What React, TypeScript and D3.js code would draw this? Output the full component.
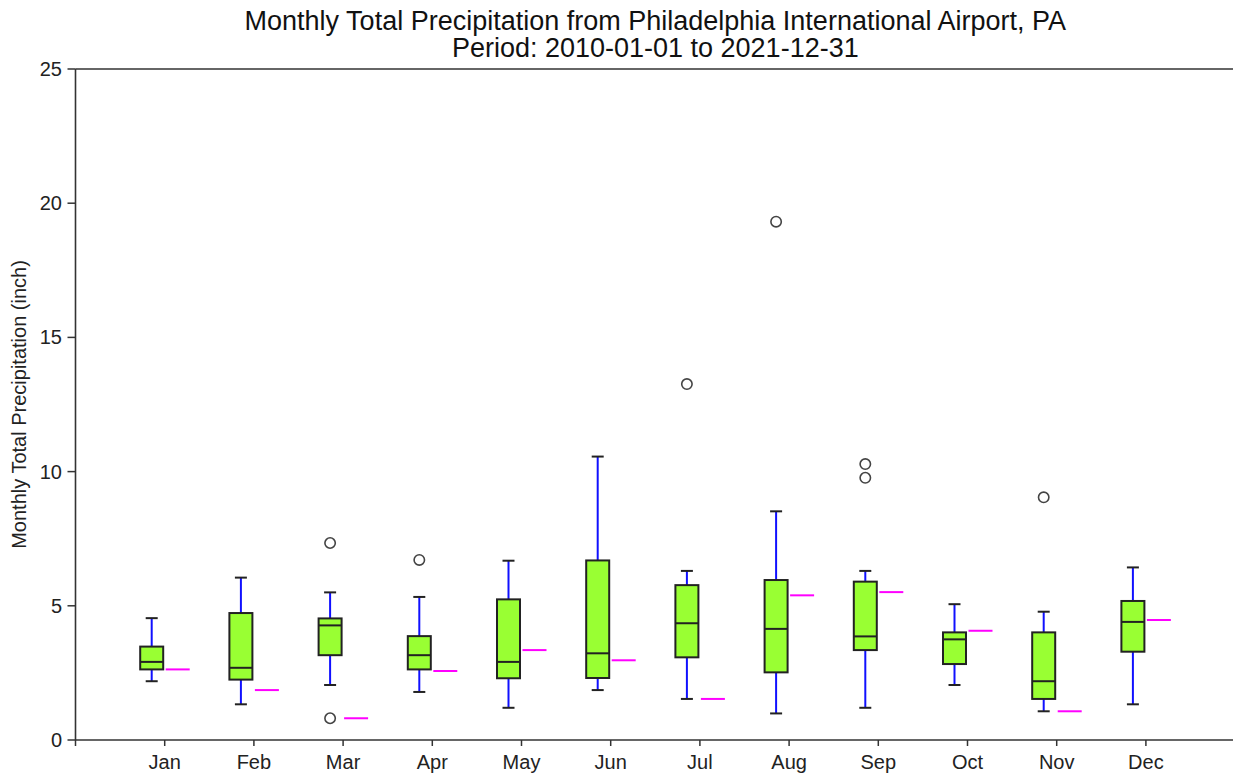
import React from "react";
import * as d3 from "d3";

const months = ["Jan", "Feb", "Mar", "Apr", "May", "Jun", "Jul", "Aug", "Sep", "Oct", "Nov", "Dec"];
const whiskerLow = [2.19, 1.33, 2.05, 1.79, 1.2, 1.86, 1.53, 0.99, 1.2, 2.05, 1.07, 1.33];
const q1 = [2.63, 2.25, 3.16, 2.63, 2.3, 2.31, 3.08, 2.52, 3.35, 2.83, 1.53, 3.29];
const median = [2.91, 2.69, 4.27, 3.16, 2.91, 3.23, 4.35, 4.14, 3.86, 3.75, 2.19, 4.4];
const q3 = [3.48, 4.73, 4.53, 3.87, 5.24, 6.69, 5.77, 5.96, 5.9, 4.01, 4.01, 5.18];
const whiskerHigh = [4.54, 6.05, 5.5, 5.33, 6.68, 10.56, 6.3, 8.52, 6.3, 5.06, 4.78, 6.43];
const outliers: number[][] = [[], [], [7.34, 0.81], [6.71], [], [], [13.26], [19.31], [10.28, 9.77], [], [9.04], []];
const value2021 = [2.63, 1.86, 0.81, 2.57, 3.35, 2.97, 1.53, 5.39, 5.51, 4.07, 1.07, 4.47];
const yTicks = [0, 5, 10, 15, 20, 25];

const W = 1233;
const H = 776;
const FONT = "'Liberation Sans', Arial, sans-serif";

export default function App() {
  const x = d3.scaleLinear().domain([0, 13]).range([75.5, 75.5 + 13 * 89.2]);
  const y = d3.scaleLinear().domain([0, 25]).range([740, 69]);
  const boxW = 23;
  const off = -13;
  const capW = 12;

  return (
    <svg width={W} height={H} style={{ position: "absolute", left: 0, top: 0, background: "#fff" }} fontFamily={FONT}>
      <text x={(x(0) + x(13)) / 2} y={30} textAnchor="middle" fontSize={27} fill="#111">
        Monthly Total Precipitation from Philadelphia International Airport, PA
      </text>
      <text x={(x(0) + x(13)) / 2} y={57} textAnchor="middle" fontSize={27} fill="#111">
        Period: 2010-01-01 to 2021-12-31
      </text>

      {/* frame */}
      <line x1={x(0)} x2={x(13)} y1={y(25)} y2={y(25)} stroke="#333" strokeWidth={1.6} />
      <line x1={x(0)} x2={x(13)} y1={y(0)} y2={y(0)} stroke="#333" strokeWidth={1.6} />
      <line x1={x(0)} x2={x(0)} y1={y(25)} y2={y(0)} stroke="#333" strokeWidth={1.6} />

      {yTicks.map((t) => (
        <g key={"yt" + t}>
          <line x1={x(0) - 8} x2={x(0)} y1={y(t)} y2={y(t)} stroke="#333" strokeWidth={1.5} />
          <text x={62} y={y(t)} dy="0.35em" textAnchor="end" fontSize={20} fill="#222">
            {t}
          </text>
        </g>
      ))}
      <line x1={x(0)} x2={x(0)} y1={y(0)} y2={y(0) + 6} stroke="#333" strokeWidth={1.5} />
      {months.map((m, i) => (
        <g key={"xt" + m}>
          <line x1={x(i + 1)} x2={x(i + 1)} y1={y(0)} y2={y(0) + 6} stroke="#333" strokeWidth={1.5} />
          <text x={x(i + 1)} y={769} textAnchor="middle" fontSize={20} fill="#222">
            {m}
          </text>
        </g>
      ))}
      <text
        transform={`translate(26,${(y(0) + y(25)) / 2}) rotate(-90)`}
        textAnchor="middle"
        fontSize={20}
        fill="#222"
      >
        Monthly Total Precipitation (inch)
      </text>

      {months.map((m, i) => {
        const cx = x(i + 1) + off;
        return (
          <g key={"box" + m}>
            <line x1={cx} x2={cx} y1={y(whiskerHigh[i])} y2={y(q3[i])} stroke="#1010ff" strokeWidth={2} />
            <line x1={cx} x2={cx} y1={y(q1[i])} y2={y(whiskerLow[i])} stroke="#1010ff" strokeWidth={2} />
            <line x1={cx - capW / 2} x2={cx + capW / 2} y1={y(whiskerHigh[i])} y2={y(whiskerHigh[i])} stroke="#222" strokeWidth={2} />
            <line x1={cx - capW / 2} x2={cx + capW / 2} y1={y(whiskerLow[i])} y2={y(whiskerLow[i])} stroke="#222" strokeWidth={2} />
            <rect
              x={cx - boxW / 2}
              y={y(q3[i])}
              width={boxW}
              height={y(q1[i]) - y(q3[i])}
              fill="#99ff33"
              stroke="#222"
              strokeWidth={2}
            />
            <line x1={cx - boxW / 2} x2={cx + boxW / 2} y1={y(median[i])} y2={y(median[i])} stroke="#222" strokeWidth={2} />
            {outliers[i].map((o, j) => (
              <circle key={j} cx={cx} cy={y(o)} r={5.2} fill="none" stroke="#444" strokeWidth={1.6} />
            ))}
            <line
              x1={x(i + 1) + 1}
              x2={x(i + 1) + 25}
              y1={y(value2021[i])}
              y2={y(value2021[i])}
              stroke="#ff00ff"
              strokeWidth={2}
            />
          </g>
        );
      })}
    </svg>
  );
}
